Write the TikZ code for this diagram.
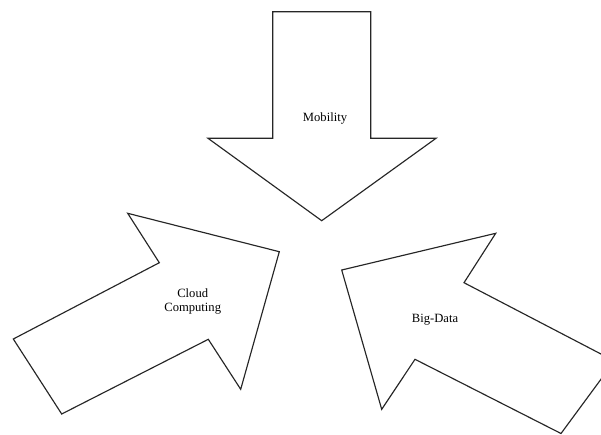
\documentclass[tikz,border=0pt]{standalone}
\usepackage{fontspec}
\setmainfont{Liberation Serif}
\begin{document}
\begin{tikzpicture}[x=1pt,y=-1pt,
  blockarrow/.style={draw=black!85,line width=1.15pt,line join=miter,fill=white},
  label/.style={font=\fontsize{12.6}{14}\selectfont,align=center,inner sep=0pt}]
\useasboundingbox (0,0) rectangle (601,434);
\clip (0,0) rectangle (601,434);
% Mobility: arrow pointing down
\draw[blockarrow] (272.7,11.7) -- (370.7,11.7) -- (370.7,138.3) -- (436,138.3)
  -- (321.7,220.7) -- (208,138.3) -- (272.7,138.3) -- cycle;
% Cloud Computing: arrow pointing up-right
\draw[blockarrow] (13.3,339) -- (61.7,414) -- (208.3,339.3) -- (240.7,389.3)
  -- (279.3,251.7) -- (127.7,213.3) -- (159.3,262.7) -- cycle;
% Big-Data: arrow pointing up-left, tail running off the page
\draw[blockarrow] (341.7,270) -- (495.7,233.3) -- (464,282.7) -- (614.4,361)
  -- (561,433.5) -- (415,359.3) -- (381.7,409.3) -- cycle;
\node[label] (mobility) at (325,118.3) {Mobility};
\node[label] (cloud) at (192.7,301.5) {Cloud\\Computing};
\node[label] (bigdata) at (435,320) {Big-Data};
\end{tikzpicture}
\end{document}
